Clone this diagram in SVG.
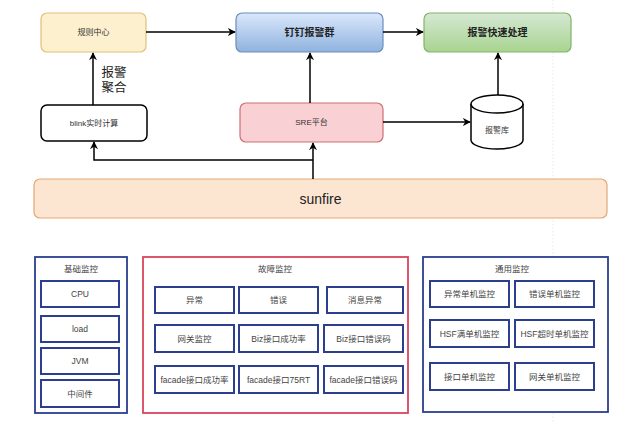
<svg xmlns="http://www.w3.org/2000/svg" width="620" height="423" viewBox="0 0 620 423">
<defs>
<linearGradient id="gBlue" x1="0" y1="0" x2="0" y2="1"><stop offset="0" stop-color="#dae8fc"/><stop offset="1" stop-color="#8fb2de"/></linearGradient>
<linearGradient id="gGreen" x1="0" y1="0" x2="0" y2="1"><stop offset="0" stop-color="#d5e8d4"/><stop offset="1" stop-color="#a8d490"/></linearGradient>
<marker id="arr" viewBox="0 0 10 10" refX="9" refY="5" markerWidth="8" markerHeight="8" orient="auto" markerUnits="userSpaceOnUse">
<path d="M0,0 L10,5 L0,10 L3,5 Z" fill="#000"/>
</marker>
</defs>
<style>
text{font-family:"Liberation Sans","Noto Sans CJK SC",sans-serif;text-anchor:middle;dominant-baseline:central;fill:#333}
.s{font-size:8px}
.b{font-size:10px;font-weight:bold;fill:#222}
.cont{fill:#fff;stroke:#2b3f8e;stroke-width:1.8}
.inner{fill:#fff;stroke:#2b3f8e;stroke-width:2}
.t{font-size:8.5px;fill:#444}
.ln{fill:none;stroke:#000;stroke-width:1.5}
</style>
<rect width="620" height="423" fill="#fff"/>
<line x1="553" y1="0" x2="553" y2="423" stroke="#e2e2e2" stroke-width="0.8" stroke-dasharray="1.5,2"/>

<g id="n-rule"><rect x="41" y="13" width="105" height="39" rx="6" fill="#fdf0cf" stroke="#e2c07a" stroke-width="1.2"/><text class="s" x="93.5" y="32.5">规则中心</text></g>
<g id="n-dingding"><rect x="236" y="13" width="147" height="39" rx="6" fill="url(#gBlue)" stroke="#6c8ebf" stroke-width="1.2"/><text class="b" x="309.5" y="32.5">钉钉报警群</text></g>
<g id="n-handle"><rect x="424" y="13" width="147" height="39" rx="6" fill="url(#gGreen)" stroke="#82b366" stroke-width="1.2"/><text class="b" x="497.5" y="32.5">报警快速处理</text></g>
<g id="n-blink"><rect x="41" y="105" width="106" height="36" rx="6" fill="#fff" stroke="#000" stroke-width="1.5"/><text class="s" x="94" y="123">blink实时计算</text></g>
<g id="n-sre"><rect x="240" y="103" width="143" height="39" rx="6" fill="#f9d0d4" stroke="#cf6f72" stroke-width="1.2"/><text class="s" x="311.5" y="122.5">SRE平台</text></g>
<g id="n-db">
<path d="M471,104 L471,140 A26,9 0 0 0 523,140 L523,104" fill="#fff" stroke="#000" stroke-width="1.5"/>
<ellipse cx="497" cy="104" rx="26" ry="9" fill="#fff" stroke="#000" stroke-width="1.5"/>
<text class="s" x="497" y="130">报警库</text></g>
<g id="n-sunfire"><rect x="34" y="179" width="573" height="39" rx="6" fill="#fce6d2" stroke="#e2a872" stroke-width="1.2"/><text x="320.5" y="198.5" style="font-size:14px;fill:#222">sunfire</text></g>

<g id="connectors">
<line class="ln" x1="146" y1="32" x2="235" y2="32" marker-end="url(#arr)"/>
<line class="ln" x1="383" y1="32" x2="423" y2="32" marker-end="url(#arr)"/>
<line class="ln" x1="93" y1="105" x2="93" y2="53" marker-end="url(#arr)"/>
<line class="ln" x1="310" y1="103" x2="310" y2="53" marker-end="url(#arr)"/>
<line class="ln" x1="383" y1="122" x2="470" y2="122" marker-end="url(#arr)"/>
<line class="ln" x1="498" y1="95" x2="498" y2="53" marker-end="url(#arr)"/>
<line class="ln" x1="313" y1="179" x2="313" y2="143" marker-end="url(#arr)"/>
<polyline class="ln" points="313,160 94,160 94,142" marker-end="url(#arr)"/>
<text x="114" y="73" style="font-size:12.5px;fill:#222">报警</text>
<text x="114" y="88" style="font-size:12.5px;fill:#222">聚合</text>
</g>

<g id="g-basic">
<rect class="cont" x="35" y="257" width="92" height="156"/>
<text class="t" x="81" y="269">基础监控</text>
<rect class="inner" x="41" y="281" width="78" height="26"/><text class="t" x="80" y="294">CPU</text>
<rect class="inner" x="41" y="316" width="78" height="26"/><text class="t" x="80" y="329">load</text>
<rect class="inner" x="41" y="348" width="78" height="26"/><text class="t" x="80" y="361">JVM</text>
<rect class="inner" x="41" y="380" width="78" height="27"/><text class="t" x="80" y="393.5">中间件</text>
</g>

<g id="g-fault">
<rect x="143" y="257" width="265" height="156" fill="#fff" stroke="#d9455f" stroke-width="1.8"/>
<text class="t" x="275" y="269">故障监控</text>
<rect class="inner" x="155" y="287" width="79" height="26"/><text class="t" x="194.5" y="300">异常</text>
<rect class="inner" x="239" y="287" width="79" height="26"/><text class="t" x="278.5" y="300">错误</text>
<rect class="inner" x="327" y="287" width="76" height="26"/><text class="t" x="365" y="300">消息异常</text>
<rect class="inner" x="155" y="325" width="79" height="27"/><text class="t" x="194.5" y="338.5">网关监控</text>
<rect class="inner" x="239" y="325" width="79" height="27"/><text class="t" x="278.5" y="338.5">Biz接口成功率</text>
<rect class="inner" x="324" y="325" width="79" height="27"/><text class="t" x="363.5" y="338.5">Biz接口错误码</text>
<rect class="inner" x="155" y="366" width="79" height="27"/><text class="t" x="194.5" y="379.5">facade接口成功率</text>
<rect class="inner" x="239" y="366" width="79" height="27"/><text class="t" x="278.5" y="379.5">facade接口75RT</text>
<rect class="inner" x="324" y="366" width="79" height="27"/><text class="t" x="363.5" y="379.5">facade接口错误码</text>
</g>

<g id="g-common">
<rect class="cont" x="423" y="257" width="185" height="155"/>
<text class="t" x="512" y="269">通用监控</text>
<rect class="inner" x="430" y="281" width="79" height="26"/><text class="t" x="469.5" y="294">异常单机监控</text>
<rect class="inner" x="515" y="281" width="79" height="26"/><text class="t" x="554.5" y="294">错误单机监控</text>
<rect class="inner" x="430" y="320" width="79" height="27"/><text class="t" x="469.5" y="333.5">HSF满单机监控</text>
<rect class="inner" x="515" y="320" width="79" height="27"/><text class="t" x="554.5" y="333.5">HSF超时单机监控</text>
<rect class="inner" x="430" y="363" width="79" height="27"/><text class="t" x="469.5" y="376.5">接口单机监控</text>
<rect class="inner" x="515" y="363" width="79" height="27"/><text class="t" x="554.5" y="376.5">网关单机监控</text>
</g>
</svg>
